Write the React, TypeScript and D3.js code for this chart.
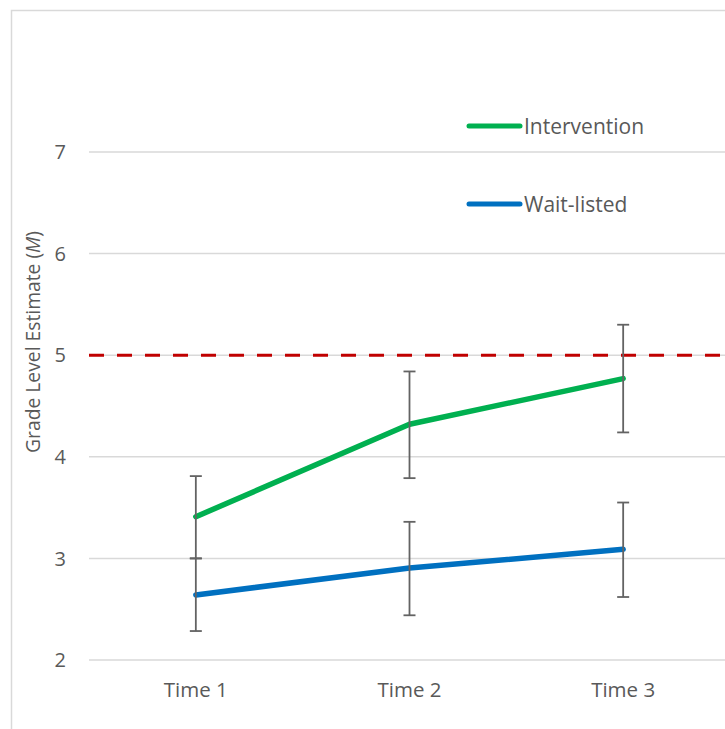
import React from "react";
import * as d3 from "d3";

const categories = ["Time 1", "Time 2", "Time 3"];
const interventionMeans = [3.41, 4.32, 4.77];
const interventionUpper = [3.81, 4.84, 5.3];
const interventionLower = [3.0, 3.79, 4.24];
const waitMeans = [2.64, 2.905, 3.09];
const waitUpper = [3.0, 3.36, 3.55];
const waitLower = [2.285, 2.44, 2.62];
const yTicks = [2, 3, 4, 5, 6, 7];
const benchmark = 5;

const series = [
  { name: "Intervention", color: "#00b050", means: interventionMeans, upper: interventionUpper, lower: interventionLower },
  { name: "Wait-listed", color: "#0070c0", means: waitMeans, upper: waitUpper, lower: waitLower },
];

const FONT = "'Open Sans', sans-serif";

export default function App() {
  const W = 725, H = 729;
  const x = d3.scaleBand<string>().domain(categories).range([89, 730]);
  const y = d3.scaleLinear().domain([2, 7]).range([660, 152]);
  const cx = (c: string) => (x(c) as number) + x.bandwidth() / 2;
  const line = d3.line<number>().x((_, i) => cx(categories[i])).y((d) => y(d));
  const legendY = [126, 204];

  return (
    <svg width={W} height={H} style={{ position: "absolute", left: 0, top: 0 }} fontFamily={FONT}>
      <rect x={0} y={0} width={W} height={H} fill="#fff" />
      <path d={`M11.5,${H} V10.5 H${W}`} fill="none" stroke="#d9d9d9" strokeWidth={1.5} />
      {yTicks.map((t) => (
        <g key={t}>
          <line x1={89} x2={W} y1={y(t)} y2={y(t)} stroke="#d9d9d9" strokeWidth={1.5} />
          <text x={66} y={y(t)} dy="0.36em" textAnchor="end" fontSize={20} fill="#595959">{t}</text>
        </g>
      ))}
      <line x1={89} x2={W} y1={y(benchmark)} y2={y(benchmark)} stroke="#c00000" strokeWidth={3} strokeDasharray="15,13" />
      {categories.map((c) => (
        <text key={c} x={cx(c)} y={690} dy="0.36em" textAnchor="middle" fontSize={20.5} fill="#595959">{c}</text>
      ))}
      <text transform={`translate(40,342) rotate(-90)`} textAnchor="middle" fontSize={19.3} fill="#595959">
        Grade Level Estimate (<tspan fontStyle="italic">M</tspan>)
      </text>
      {series.map((s) => (
        <path key={s.name} d={line(s.means) || ""} fill="none" stroke={s.color} strokeWidth={5.5} strokeLinecap="round" strokeLinejoin="round" />
      ))}
      {series.map((s) => (
        <g key={s.name + "err"}>
          {categories.map((c, i) => (
            <g key={c} stroke="#636363" strokeWidth={1.8}>
              <line x1={cx(c)} x2={cx(c)} y1={y(s.upper[i])} y2={y(s.lower[i])} />
              <line x1={cx(c) - 6} x2={cx(c) + 6} y1={y(s.upper[i])} y2={y(s.upper[i])} />
              <line x1={cx(c) - 6} x2={cx(c) + 6} y1={y(s.lower[i])} y2={y(s.lower[i])} />
            </g>
          ))}
        </g>
      ))}
      {series.map((s, i) => (
        <g key={s.name + "leg"}>
          <line x1={469} x2={520} y1={legendY[i]} y2={legendY[i]} stroke={s.color} strokeWidth={5} strokeLinecap="round" />
          <text x={524} y={legendY[i]} dy="0.36em" fontSize={21} fill="#595959">{s.name}</text>
        </g>
      ))}
    </svg>
  );
}
